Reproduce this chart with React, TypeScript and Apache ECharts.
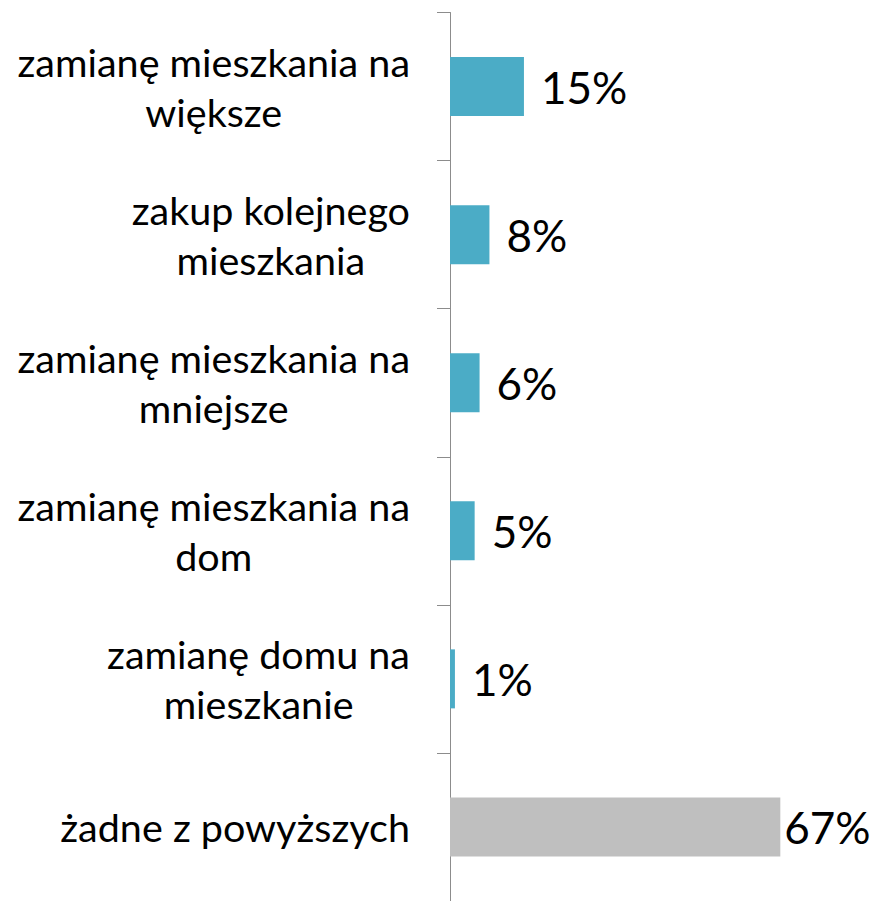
import React, { useEffect, useRef } from "react";
import * as echarts from "echarts";

const categories = [
  "zamianę mieszkania na\nwiększe",
  "zakup kolejnego\nmieszkania",
  "zamianę mieszkania na\nmniejsze",
  "zamianę mieszkania na\ndom",
  "zamianę domu na\nmieszkanie",
  "żadne z powyższych",
];
const values = [15, 8, 6, 5, 1, 67];
const barColors = ["#4BACC6", "#4BACC6", "#4BACC6", "#4BACC6", "#4BACC6", "#BFBFBF"];
const labelDistances = [17, 17, 17, 17, 17, 4];

const FONT = "Lato";

export default function App() {
  const ref = useRef<HTMLDivElement>(null);
  useEffect(() => {
    if (!ref.current) return;
    const chart = echarts.init(ref.current, undefined, { renderer: "svg" });
    chart.setOption({
      animation: false,
      grid: { left: 450, top: 12.5, height: 892, width: 394.4, containLabel: false },
      xAxis: {
        type: "value",
        min: 0,
        max: 80,
        show: false,
      },
      yAxis: {
        type: "category",
        inverse: true,
        data: categories,
        axisLine: { show: true, lineStyle: { color: "#8C8C8C", width: 1 } },
        axisTick: { show: true, inside: false, length: 13, lineStyle: { color: "#8C8C8C" } },
        axisLabel: {
          margin: 40,
          align: "right",
          color: "#000",
          fontFamily: FONT,
          fontSize: 39.5,
          lineHeight: 50,
          formatter: (v: string) =>
            v
              .split("\n")
              .map((l) => `{c|${l}}`)
              .join("\n"),
          rich: {
            c: { align: "center", fontFamily: FONT, fontSize: 39.5, lineHeight: 50, color: "#000" },
          },
        },
        splitLine: { show: false },
      },
      series: [
        {
          type: "bar",
          barWidth: 59,
          data: values.map((v, i) => ({
            value: v,
            itemStyle: { color: barColors[i] },
            label: { distance: labelDistances[i] },
          })),
          label: {
            show: true,
            position: "right",
            formatter: (p: any) => `${p.value}%`,
            fontFamily: FONT,
            fontSize: 44,
            color: "#000",
          },
        },
      ],
    });
    return () => chart.dispose();
  }, []);
  return (
    <div
      ref={ref}
      style={{ position: "fixed", left: 0, top: 0, width: 870, height: 901, background: "#fff" }}
    />
  );
}
